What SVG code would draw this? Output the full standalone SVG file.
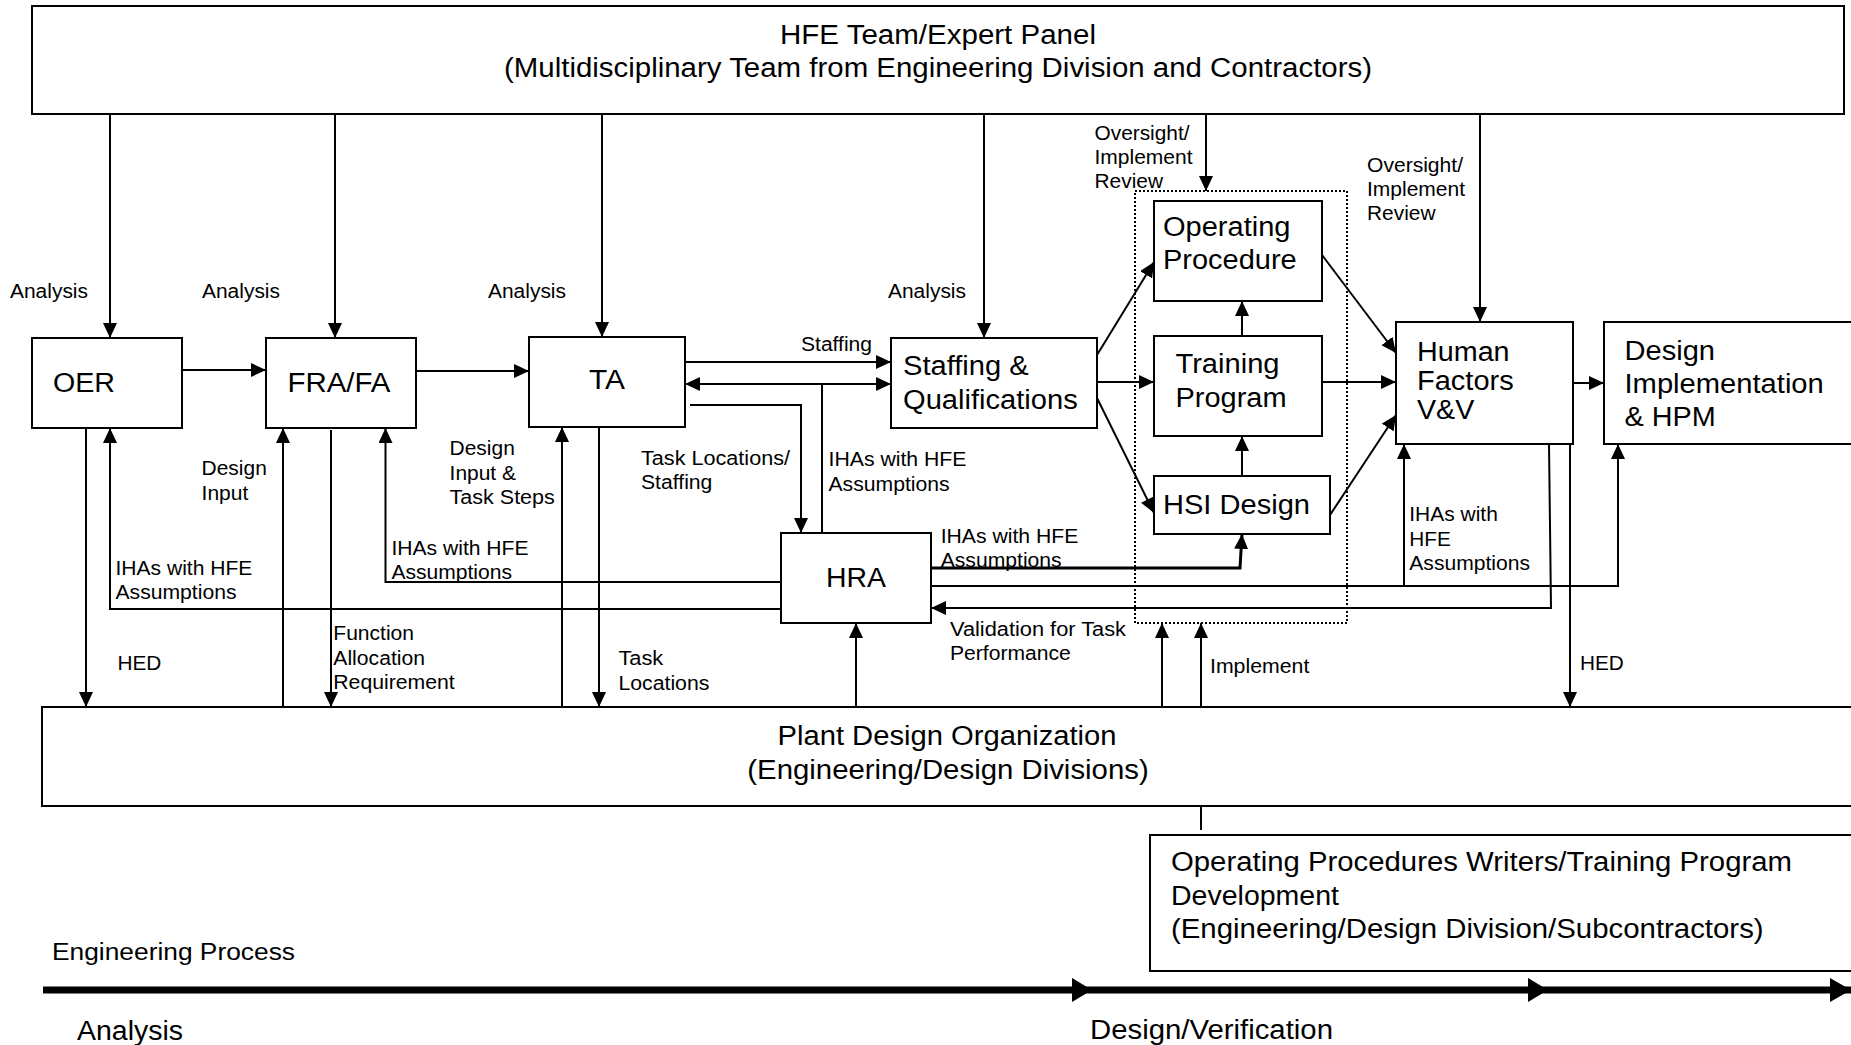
<svg xmlns="http://www.w3.org/2000/svg" width="1851" height="1045" viewBox="0 0 1851 1045">
<style>
text { font-family: "Liberation Sans", Arial, Helvetica, sans-serif; fill: #000; }
.lg { font-size: 27px; }
.sm { font-size: 19.5px; }
.ep { font-size: 23px; }
.box { fill: #fff; stroke: #000; stroke-width: 2; }
.dot { fill: none; stroke: #000; stroke-width: 2; stroke-dasharray: 2 2; }
.ln { fill: none; stroke: #000; stroke-width: 2; }
.thick { fill: none; stroke: #000; stroke-width: 3; }
.arr { marker-end: url(#ah); }
</style>
<defs>
<marker id="ah" markerUnits="userSpaceOnUse" markerWidth="15" markerHeight="14" refX="15" refY="7" orient="auto">
<path d="M0,0 L15,7 L0,14 z" fill="#000"/>
</marker>
</defs>
<rect width="1851" height="1045" fill="#fff"/>

<g id="hfe-team">
<rect class="box" x="32" y="6" width="1812" height="108"/>
<text class="lg" x="938" y="43.5" text-anchor="middle" textLength="316" lengthAdjust="spacingAndGlyphs">HFE Team/Expert Panel</text>
<text class="lg" x="938" y="77" text-anchor="middle" textLength="868" lengthAdjust="spacingAndGlyphs">(Multidisciplinary Team from Engineering Division and Contractors)</text>
</g>

<g id="oer">
<rect class="box" x="32" y="338" width="150" height="90"/>
<text class="lg" x="53" y="392" textLength="62" lengthAdjust="spacingAndGlyphs">OER</text>
</g>

<g id="fra-fa">
<rect class="box" x="266" y="338" width="150" height="90"/>
<text class="lg" x="287.5" y="392" textLength="103" lengthAdjust="spacingAndGlyphs">FRA/FA</text>
</g>

<g id="ta">
<rect class="box" x="529" y="337" width="156" height="90"/>
<text class="lg" x="589" y="389" textLength="36" lengthAdjust="spacingAndGlyphs">TA</text>
</g>

<g id="staffing">
<rect class="box" x="891" y="338" width="206" height="90"/>
<text class="lg" x="903" y="375" textLength="125.7" lengthAdjust="spacingAndGlyphs">Staffing &amp;</text>
<text class="lg" x="903" y="409" textLength="174.7" lengthAdjust="spacingAndGlyphs">Qualifications</text>
</g>

<g id="hra">
<rect class="box" x="781" y="533" width="150" height="90"/>
<text class="lg" x="826" y="587" textLength="60" lengthAdjust="spacingAndGlyphs">HRA</text>
</g>

<g id="design-group">
<rect class="dot" x="1135" y="191" width="212" height="432"/>
</g>

<g id="operating-procedure">
<rect class="box" x="1154" y="201" width="168" height="100"/>
<text class="lg" x="1163" y="236" textLength="127.5" lengthAdjust="spacingAndGlyphs">Operating</text>
<text class="lg" x="1163" y="269" textLength="133.7" lengthAdjust="spacingAndGlyphs">Procedure</text>
</g>

<g id="training-program">
<rect class="box" x="1154" y="336" width="168" height="100"/>
<text class="lg" x="1175.5" y="373" textLength="104" lengthAdjust="spacingAndGlyphs">Training</text>
<text class="lg" x="1175.5" y="407" textLength="111" lengthAdjust="spacingAndGlyphs">Program</text>
</g>

<g id="hsi-design">
<rect class="box" x="1154" y="476" width="176" height="58"/>
<text class="lg" x="1163" y="514" textLength="147" lengthAdjust="spacingAndGlyphs">HSI Design</text>
</g>

<g id="hf-vv">
<rect class="box" x="1396" y="322" width="177" height="122"/>
<text class="lg" x="1417" y="361" textLength="92.6" lengthAdjust="spacingAndGlyphs">Human</text>
<text class="lg" x="1417" y="390" textLength="96.7" lengthAdjust="spacingAndGlyphs">Factors</text>
<text class="lg" x="1417" y="419" textLength="57.3" lengthAdjust="spacingAndGlyphs">V&amp;V</text>
</g>

<g id="design-impl">
<rect class="box" x="1604" y="322" width="260" height="122"/>
<text class="lg" x="1624.5" y="360" textLength="90.5" lengthAdjust="spacingAndGlyphs">Design</text>
<text class="lg" x="1624.5" y="393" textLength="199.3" lengthAdjust="spacingAndGlyphs">Implementation</text>
<text class="lg" x="1624.5" y="426" textLength="91.3" lengthAdjust="spacingAndGlyphs">&amp; HPM</text>
</g>

<g id="plant-design">
<rect class="box" x="42" y="707" width="1822" height="99"/>
<text class="lg" x="947" y="745" text-anchor="middle" textLength="339" lengthAdjust="spacingAndGlyphs">Plant Design Organization</text>
<text class="lg" x="948" y="779" text-anchor="middle" textLength="401.4" lengthAdjust="spacingAndGlyphs">(Engineering/Design Divisions)</text>
</g>

<g id="writers">
<rect class="box" x="1150" y="835" width="714" height="136"/>
<text class="lg" x="1171" y="871" textLength="621" lengthAdjust="spacingAndGlyphs">Operating Procedures Writers/Training Program</text>
<text class="lg" x="1171" y="905" textLength="168" lengthAdjust="spacingAndGlyphs">Development</text>
<text class="lg" x="1171" y="938" textLength="592.6" lengthAdjust="spacingAndGlyphs">(Engineering/Design Division/Subcontractors)</text>
</g>

<g id="connectors">
<path class="ln arr" d="M110,114 V338"/>
<path class="ln arr" d="M335,114 V338"/>
<path class="ln arr" d="M602,114 V337"/>
<path class="ln arr" d="M984,114 V338"/>
<path class="ln arr" d="M1206,114 V191"/>
<path class="ln arr" d="M1480,114 V322"/>

<path class="ln arr" d="M182,370 H266"/>
<path class="ln arr" d="M416,371 H529"/>
<path class="ln arr" d="M685,362 H891"/>
<path class="ln" d="M822,533 V384"/>
<path class="ln arr" d="M822,384 H685"/>
<path class="ln arr" d="M822,384 H891"/>
<path class="ln arr" d="M690,405 H801 V533"/>

<path class="ln arr" d="M1097,355 L1154,262"/>
<path class="ln arr" d="M1097,382 H1154"/>
<path class="ln arr" d="M1097,398 L1154,513"/>
<path class="ln arr" d="M1242,336 V301"/>
<path class="ln arr" d="M1242,476 V436"/>
<path class="ln arr" d="M1322,255 L1396,353"/>
<path class="ln arr" d="M1322,382 H1396"/>
<path class="ln arr" d="M1330,515 L1396,415"/>
<path class="ln arr" d="M1573,383 H1604"/>

<path class="ln arr" d="M781,582 H385.5 V428"/>
<path class="ln arr" d="M781,609 H110 V428"/>
<path class="thick arr" d="M931,568 H1240 L1242,534"/>
<path class="ln arr" d="M931,586 H1618 V444"/>
<path class="ln arr" d="M1404,586 V444"/>
<path class="ln arr" d="M1549,444 L1551,608 H931"/>
<path class="ln arr" d="M1570,444 V707"/>

<path class="ln arr" d="M86,428 V707"/>
<path class="ln arr" d="M283,707 V428"/>
<path class="ln arr" d="M331,430 V707"/>
<path class="ln arr" d="M562,707 V427"/>
<path class="ln arr" d="M599,427 V707"/>
<path class="ln arr" d="M856,707 V623"/>
<path class="ln arr" d="M1162,707 V623"/>
<path class="ln arr" d="M1201,707 V623"/>
<path class="ln" d="M1201,806 V830"/>
</g>

<g id="labels">
<text class="sm" x="10" y="298" textLength="78" lengthAdjust="spacingAndGlyphs">Analysis</text>
<text class="sm" x="202" y="298" textLength="78" lengthAdjust="spacingAndGlyphs">Analysis</text>
<text class="sm" x="488" y="298" textLength="78" lengthAdjust="spacingAndGlyphs">Analysis</text>
<text class="sm" x="888" y="298" textLength="78" lengthAdjust="spacingAndGlyphs">Analysis</text>

<text class="sm" x="1094.5" y="140" textLength="95" lengthAdjust="spacingAndGlyphs">Oversight/</text>
<text class="sm" x="1094.5" y="164" textLength="98" lengthAdjust="spacingAndGlyphs">Implement</text>
<text class="sm" x="1094.5" y="188" textLength="68.5" lengthAdjust="spacingAndGlyphs">Review</text>

<text class="sm" x="1367" y="172" textLength="96" lengthAdjust="spacingAndGlyphs">Oversight/</text>
<text class="sm" x="1367" y="196" textLength="98" lengthAdjust="spacingAndGlyphs">Implement</text>
<text class="sm" x="1367" y="220" textLength="68.5" lengthAdjust="spacingAndGlyphs">Review</text>

<text class="sm" x="801" y="351" textLength="71" lengthAdjust="spacingAndGlyphs">Staffing</text>

<text class="sm" x="641" y="465" textLength="149" lengthAdjust="spacingAndGlyphs">Task Locations/</text>
<text class="sm" x="641" y="489" textLength="71.4" lengthAdjust="spacingAndGlyphs">Staffing</text>

<text class="sm" x="828.5" y="466" textLength="138" lengthAdjust="spacingAndGlyphs">IHAs with HFE</text>
<text class="sm" x="828.5" y="491" textLength="121.2" lengthAdjust="spacingAndGlyphs">Assumptions</text>

<text class="sm" x="940.7" y="543" textLength="137.7" lengthAdjust="spacingAndGlyphs">IHAs with HFE</text>
<text class="sm" x="940.7" y="567" textLength="121" lengthAdjust="spacingAndGlyphs">Assumptions</text>

<text class="sm" x="201.6" y="475" textLength="65.2" lengthAdjust="spacingAndGlyphs">Design</text>
<text class="sm" x="201.6" y="500" textLength="46.7" lengthAdjust="spacingAndGlyphs">Input</text>

<text class="sm" x="449.6" y="455" textLength="65.2" lengthAdjust="spacingAndGlyphs">Design</text>
<text class="sm" x="449.6" y="480" textLength="66.4" lengthAdjust="spacingAndGlyphs">Input &amp;</text>
<text class="sm" x="449.6" y="504" textLength="105.2" lengthAdjust="spacingAndGlyphs">Task Steps</text>

<text class="sm" x="391.4" y="555" textLength="137.2" lengthAdjust="spacingAndGlyphs">IHAs with HFE</text>
<text class="sm" x="391.4" y="579" textLength="120.6" lengthAdjust="spacingAndGlyphs">Assumptions</text>

<text class="sm" x="115.5" y="575" textLength="136.8" lengthAdjust="spacingAndGlyphs">IHAs with HFE</text>
<text class="sm" x="115.5" y="599" textLength="121" lengthAdjust="spacingAndGlyphs">Assumptions</text>

<text class="sm" x="117.4" y="670" textLength="43.9" lengthAdjust="spacingAndGlyphs">HED</text>

<text class="sm" x="333.3" y="640" textLength="80.7" lengthAdjust="spacingAndGlyphs">Function</text>
<text class="sm" x="333.3" y="665" textLength="91.7" lengthAdjust="spacingAndGlyphs">Allocation</text>
<text class="sm" x="333.3" y="689" textLength="121.4" lengthAdjust="spacingAndGlyphs">Requirement</text>

<text class="sm" x="618.4" y="665" textLength="44.9" lengthAdjust="spacingAndGlyphs">Task</text>
<text class="sm" x="618.4" y="690" textLength="91" lengthAdjust="spacingAndGlyphs">Locations</text>

<text class="sm" x="950" y="636" textLength="176" lengthAdjust="spacingAndGlyphs">Validation for Task</text>
<text class="sm" x="950" y="660" textLength="120.7" lengthAdjust="spacingAndGlyphs">Performance</text>

<text class="sm" x="1210" y="673" textLength="99.3" lengthAdjust="spacingAndGlyphs">Implement</text>

<text class="sm" x="1409.3" y="521" textLength="88.5" lengthAdjust="spacingAndGlyphs">IHAs with</text>
<text class="sm" x="1409.3" y="546" textLength="41.6" lengthAdjust="spacingAndGlyphs">HFE</text>
<text class="sm" x="1409.3" y="570" textLength="120.7" lengthAdjust="spacingAndGlyphs">Assumptions</text>

<text class="sm" x="1580" y="670" textLength="43.8" lengthAdjust="spacingAndGlyphs">HED</text>
</g>

<g id="timeline">
<rect x="43" y="986.5" width="1808" height="7" fill="#000"/>
<polygon points="1072,978 1092,990 1072,1002" fill="#000"/>
<polygon points="1528,978 1548,990 1528,1002" fill="#000"/>
<polygon points="1830,978 1851,990 1830,1002" fill="#000"/>
<text class="ep" x="52" y="960" textLength="243" lengthAdjust="spacingAndGlyphs">Engineering Process</text>
<text class="lg" x="77" y="1040" textLength="106" lengthAdjust="spacingAndGlyphs">Analysis</text>
<text class="lg" x="1090" y="1039" textLength="243" lengthAdjust="spacingAndGlyphs">Design/Verification</text>
</g>
</svg>
